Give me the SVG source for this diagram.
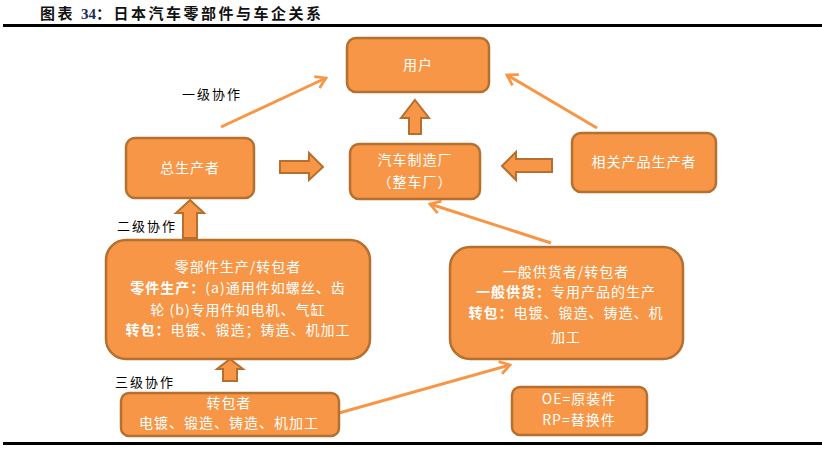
<svg xmlns="http://www.w3.org/2000/svg" width="822" height="453" viewBox="0 0 822 453">
<style>
.box{fill:#F79646;stroke:#B5702F;stroke-width:2.5}
.blk{fill:#F79646;stroke:#B5702F;stroke-width:2}
.t{font-family:"Noto Sans CJK SC","Liberation Sans",sans-serif;font-size:14px;fill:#FFFFFF;text-anchor:middle;letter-spacing:1px}
.b{font-weight:bold}
.lbl{font-family:"Noto Sans CJK SC","Liberation Serif",serif;font-size:13px;fill:#000000;letter-spacing:2px}
.ln{stroke:#F79646;stroke-width:3;fill:none}
</style>
<defs>
<marker id="ah" viewBox="0 0 12 12" refX="10" refY="6" markerWidth="5" markerHeight="5" orient="auto" markerUnits="strokeWidth">
<polyline points="2,1 10,6 2,11" fill="none" stroke="#F79646" stroke-width="2.2"/>
</marker>
</defs>
<rect width="822" height="453" fill="#FFFFFF"/>
<g id="title">
<text x="40" y="19" font-family="Noto Sans CJK SC,Liberation Serif,serif" font-size="15" font-weight="bold" fill="#111" letter-spacing="2.5">图表 <tspan font-family="Liberation Serif" fill="#1F2A55" letter-spacing="0">34</tspan>：日本汽车零部件与车企关系</text>
<rect x="3" y="24" width="819" height="3" fill="#000"/>
</g>
<rect x="3" y="442" width="819" height="3" fill="#000"/>

<g id="connectors">
<line class="ln" x1="221" y1="127" x2="326" y2="78" marker-end="url(#ah)"/>
<line class="ln" x1="597" y1="128" x2="507" y2="75" marker-end="url(#ah)"/>
<line class="ln" x1="551" y1="243" x2="430" y2="204" marker-end="url(#ah)"/>
<line class="ln" x1="339" y1="413" x2="510" y2="365" marker-end="url(#ah)"/>
<polygon class="blk" points="415,100 429,118 421,118 421,134 409,134 409,118 401,118"/>
<polygon class="blk" points="323,167 309,153 309,161 280,161 280,173 309,173 309,180"/>
<polygon class="blk" points="502,166 516,152 516,159 552,159 552,172 516,172 516,180"/>
<polygon class="blk" points="190,200 204,213 197,213 197,238 183,238 183,213 176,213"/>
<polygon class="blk" points="230,359 243,369 237,369 237,381 223,381 223,369 217,369"/>
</g>

<g id="labels">
<text class="lbl" x="182" y="99">一级协作</text>
<text class="lbl" x="117" y="231">二级协作</text>
<text class="lbl" x="115" y="387">三级协作</text>
</g>

<g id="user">
<rect class="box" x="347" y="38" width="142" height="54" rx="9"/>
<text class="t" x="418" y="70">用户</text>
</g>
<g id="total">
<rect class="box" x="126" y="138" width="128" height="60" rx="9"/>
<text class="t" x="190" y="173">总生产者</text>
</g>
<g id="oem">
<rect class="box" x="350" y="144" width="130" height="55" rx="9"/>
<text class="t" x="415" y="165">汽车制造厂</text>
<text class="t" x="415" y="187">（整车厂）</text>
</g>
<g id="related">
<rect class="box" x="572" y="133" width="144" height="59" rx="9"/>
<text class="t" x="644" y="167">相关产品生产者</text>
</g>
<g id="parts">
<rect class="box" x="106" y="240" width="264" height="119" rx="20"/>
<text class="t" x="238" y="272">零部件生产/转包者</text>
<text class="t" x="238" y="293"><tspan class="b">零件生产：</tspan>(a)通用件如螺丝、齿</text>
<text class="t" x="238" y="315">轮 (b)专用件如电机、气缸</text>
<text class="t" x="238" y="335"><tspan class="b">转包：</tspan>电镀、锻造；铸造、机加工</text>
</g>
<g id="general">
<rect class="box" x="450" y="247" width="233" height="112" rx="20"/>
<text class="t" x="566" y="277">一般供货者/转包者</text>
<text class="t" x="566" y="297"><tspan class="b">一般供货：</tspan>专用产品的生产</text>
<text class="t" x="566" y="318"><tspan class="b">转包：</tspan>电镀、锻造、铸造、机</text>
<text class="t" x="566" y="342">加工</text>
</g>
<g id="sub">
<rect class="box" x="121" y="393" width="218" height="43" rx="8"/>
<text class="t" x="229" y="408">转包者</text>
<text class="t" x="229" y="428">电镀、锻造、铸造、机加工</text>
</g>
<g id="legend">
<rect class="box" x="512" y="387" width="135" height="48" rx="8"/>
<text class="t" x="579" y="404">OE=原装件</text>
<text class="t" x="579" y="425">RP=替换件</text>
</g>
</svg>
